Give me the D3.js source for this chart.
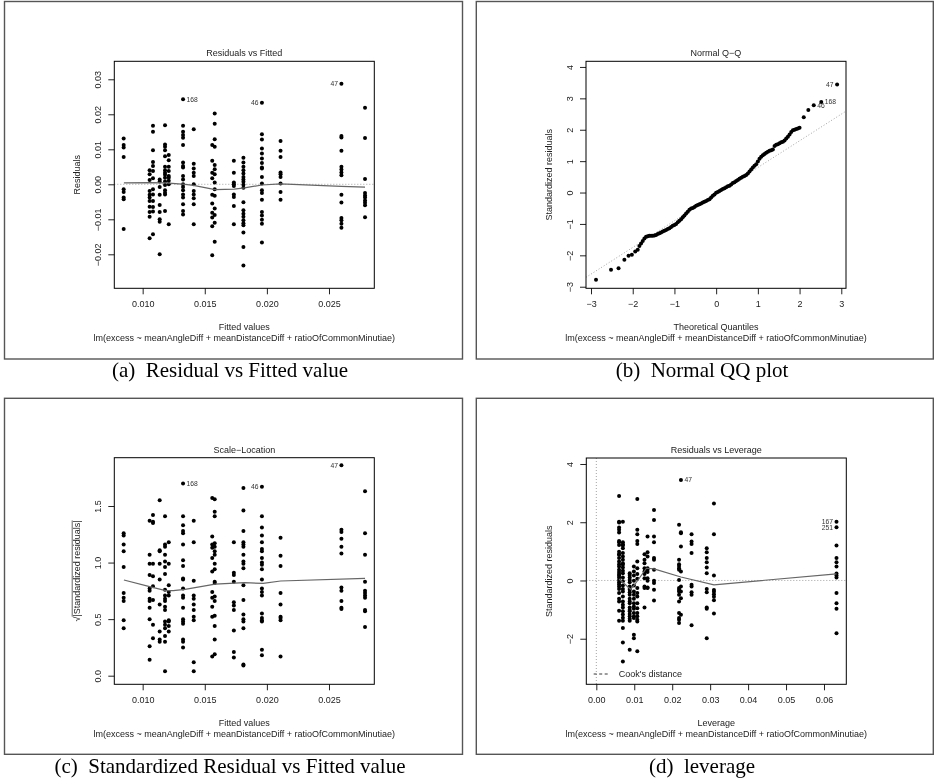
<!DOCTYPE html>
<html>
<head>
<meta charset="utf-8">
<script src="https://cdn.jsdelivr.net/npm/d3@7"></script>
<style>
  body { margin: 0; background: #fff; }
  svg { display: block; font-family: "Liberation Sans", Arial, sans-serif; filter: grayscale(1); }
</style>
</head>
<body>
<div id="viz"></div>
<script>

// fitted value columns shared by panels (a) and (c)
const fittedGroups = [0.00847, 0.01056, 0.01083, 0.01137, 0.0118, 0.0121, 0.01325, 0.01411,
                      0.0156, 0.0158, 0.01734, 0.01811, 0.0196, 0.0211, 0.0260, 0.0279];

// (a) residuals, one list per fitted column
const residuals = [
  [0.0131, 0.0112, 0.0105, 0.0078, -0.0014, -0.0022, -0.0038, -0.0043, -0.0128],
  [0.0040, 0.0029, 0.0012, -0.0019, -0.0030, -0.0038, -0.0048, -0.0064, -0.0079, -0.0093, -0.0154],
  [0.0167, 0.0150, 0.0097, 0.0064, 0.0052, 0.0038, 0.0017, -0.0014, -0.0029, -0.0048, -0.0065, -0.0078, -0.0143],
  [0.0014, 0.0008, -0.0008, -0.0030, -0.0059, -0.0079, -0.0100, -0.0107, -0.0200],
  [0.0169, 0.0114, 0.0107, 0.0097, 0.0080, 0.0050, 0.0040, 0.0033, 0.0027, 0.0019, 0.0008, -0.0002, -0.0017, -0.0024, -0.0029, -0.0076],
  [0.0084, 0.0069, 0.0050, 0.0038, 0.0024, 0.0019, 0.0010, 0.0000, -0.0114],
  [0.0243, 0.0167, 0.0150, 0.0141, 0.0133, 0.0112, 0.0062, 0.0052, 0.0048, 0.0024, 0.0014, 0.0000, -0.0008, -0.0017, -0.0029, -0.0038, -0.0057, -0.0076, -0.0086],
  [0.0157, 0.0059, 0.0045, 0.0033, 0.0024, 0.0000, -0.0019, -0.0029, -0.0040, -0.0057, -0.0114],
  [0.0112, 0.0067, 0.0033, 0.0017, -0.0030, -0.0055, -0.0081, -0.0095, -0.0120, -0.0203],
  [0.0202, 0.0173, 0.0129, 0.0107, 0.0055, 0.0043, 0.0029, 0.0005, -0.0014, -0.0033, -0.0069, -0.0088, -0.0110, -0.0164],
  [0.0067, 0.0033, 0.0005, 0.0000, -0.0005, -0.0029, -0.0036, -0.0062, -0.0114],
  [0.0076, 0.0062, 0.0050, 0.0040, 0.0031, 0.0021, 0.0014, 0.0007, -0.0001, -0.0010, -0.0051, -0.0074, -0.0084, -0.0093, -0.0103, -0.0111, -0.0117, -0.0138, -0.0179, -0.0232],
  [0.0233, 0.0143, 0.0128, 0.0102, 0.0088, 0.0074, 0.0061, 0.0048, 0.0045, 0.0021, 0.0002, -0.0017, -0.0025, -0.0044, -0.0079, -0.0089, -0.0101, -0.0113, -0.0166],
  [0.0124, 0.0096, 0.0078, 0.0034, 0.0029, 0.0021, 0.0002, -0.0022, -0.0044],
  [0.0287, 0.0138, 0.0134, 0.0096, 0.0050, 0.0042, 0.0034, 0.0026, -0.0030, -0.0052, -0.0096, -0.0103, -0.0113, -0.0124],
  [0.0219, 0.0132, 0.0015, -0.0025, -0.0032, -0.0038, -0.0046, -0.0053, -0.0060, -0.0094]
];
const smoothAX = [0.00849, 0.01056, 0.01185, 0.01341, 0.01409, 0.01583, 0.01737, 0.0182, 0.0196, 0.0211, 0.0260, 0.0279];
const smoothAY = [0.0004, 0.0005, 0.0004, 0.0000, -0.0003, -0.0015, -0.0014, -0.0010, -0.0002, 0.0001, -0.0006, -0.0008];

// (c) sqrt(|standardized residuals|), one list per fitted column
const sqrtStdRes = [
  [1.26, 1.24, 1.16, 1.10, 0.96, 0.73, 0.69, 0.66, 0.49, 0.42],
  [1.37, 1.07, 0.99, 0.89, 0.77, 0.75, 0.68, 0.66, 0.60, 0.50, 0.26, 0.14],
  [1.42, 1.36, 1.35, 0.99, 0.88, 0.79, 0.67, 0.45, 0.33],
  [1.55, 1.11, 1.10, 0.99, 0.85, 0.63, 0.39, 0.32, 0.30],
  [1.41, 1.16, 1.14, 1.07, 1.01, 0.96, 0.90, 0.76, 0.71, 0.68, 0.66, 0.61, 0.58, 0.48, 0.45, 0.42, 0.35, 0.30, 0.04],
  [1.18, 0.99, 0.80, 0.74, 0.71, 0.49, 0.48, 0.44, 0.39],
  [1.70, 1.41, 1.33, 1.28, 1.26, 1.16, 1.02, 0.97, 0.86, 0.85, 0.77, 0.71, 0.69, 0.60, 0.50, 0.48, 0.46, 0.32, 0.30, 0.25],
  [1.37, 1.18, 0.84, 0.71, 0.68, 0.63, 0.58, 0.52, 0.49, 0.12, 0.04],
  [1.57, 1.23, 1.16, 1.13, 1.04, 0.92, 0.74, 0.69, 0.61, 0.52, 0.17],
  [1.56, 1.45, 1.41, 1.17, 1.14, 1.10, 1.07, 0.99, 0.94, 0.83, 0.82, 0.70, 0.66, 0.53, 0.44, 0.32, 0.19],
  [1.18, 0.91, 0.89, 0.83, 0.65, 0.62, 0.58, 0.40, 0.21, 0.16],
  [1.66, 1.46, 1.28, 1.18, 1.16, 1.14, 1.07, 1.01, 0.99, 0.95, 0.80, 0.67, 0.54, 0.50, 0.48, 0.42, 0.10, 0.09],
  [1.67, 1.41, 1.31, 1.24, 1.18, 1.12, 1.10, 1.04, 1.00, 0.98, 0.94, 0.85, 0.77, 0.74, 0.71, 0.55, 0.51, 0.49, 0.48, 0.23, 0.18],
  [1.22, 1.06, 0.97, 0.73, 0.63, 0.52, 0.51, 0.49, 0.17],
  [1.86, 1.29, 1.27, 1.21, 1.14, 1.08, 0.78, 0.75, 0.66, 0.60, 0.59],
  [1.63, 1.26, 1.07, 0.83, 0.75, 0.73, 0.71, 0.69, 0.58, 0.57, 0.43]
];
const smoothCX = [0.00849, 0.01056, 0.01185, 0.01247, 0.01341, 0.01583, 0.0182, 0.0197, 0.0211, 0.0279];
const smoothCY = [0.846, 0.787, 0.752, 0.752, 0.763, 0.810, 0.822, 0.816, 0.837, 0.861];

// (b) normal Q-Q: theoretical quantile and sorted standardized residual
const qqTheoretical = [-2.88, -2.52, -2.34, -2.20, -2.10, -2.02, -1.94, -1.88, -1.84,
  -1.80, -1.76, -1.72, -1.68, -1.64, -1.60, -1.56, -1.52, -1.48, -1.44, -1.40, -1.36, -1.32, -1.28, -1.24, -1.20,
  -1.16, -1.12, -1.08, -1.04, -1.00, -0.96, -0.92, -0.88, -0.84, -0.80, -0.76, -0.72, -0.68, -0.64, -0.60, -0.56,
  -0.52, -0.48, -0.44, -0.40, -0.36, -0.32, -0.28, -0.24, -0.20, -0.16, -0.12, -0.08, -0.04, 0.00, 0.04, 0.08,
  0.12, 0.16, 0.20, 0.24, 0.28, 0.32, 0.36, 0.40, 0.44, 0.48, 0.52, 0.56, 0.60, 0.64, 0.68, 0.72, 0.76, 0.80,
  0.84, 0.88, 0.92, 0.96, 1.00, 1.04, 1.08, 1.12, 1.16, 1.20, 1.24, 1.28, 1.32, 1.36, 1.40, 1.44, 1.48, 1.52,
  1.56, 1.60, 1.64, 1.68, 1.72, 1.76, 1.80, 1.84, 1.88, 1.92, 1.96, 2.00,
  2.10, 2.21, 2.34, 2.52, 2.90];
const qqSample = [-2.78, -2.46, -2.41, -2.14, -2.01, -1.98, -1.88, -1.82, -1.70,
  -1.62, -1.54, -1.46, -1.41, -1.39, -1.38, -1.38, -1.38, -1.37, -1.35, -1.32, -1.30, -1.27, -1.24, -1.22, -1.19,
  -1.16, -1.14, -1.10, -1.06, -1.03, -1.00, -0.95, -0.90, -0.85, -0.79, -0.73, -0.67, -0.61, -0.55, -0.51, -0.49,
  -0.46, -0.42, -0.40, -0.37, -0.35, -0.32, -0.29, -0.27, -0.24, -0.21, -0.16, -0.10, -0.06, -0.01, 0.02, 0.05,
  0.08, 0.11, 0.14, 0.17, 0.20, 0.22, 0.26, 0.30, 0.33, 0.37, 0.40, 0.44, 0.47, 0.50, 0.53, 0.56, 0.61, 0.67,
  0.73, 0.80, 0.85, 0.90, 0.99, 1.08, 1.14, 1.19, 1.23, 1.27, 1.30, 1.33, 1.35, 1.37, 1.48, 1.52, 1.54, 1.57,
  1.60, 1.62, 1.66, 1.72, 1.78, 1.85, 1.93, 1.98, 2.00, 2.02, 2.04, 2.06,
  2.40, 2.63, 2.78, 2.88, 3.44];
const qqLineX = [-3.12, 3.11];
const qqLineY = [-2.70, 2.59];

// (d) leverage columns and standardized residuals
const leverageGroups = [0.0060, 0.0070, 0.0088, 0.0099, 0.0108, 0.0127, 0.0135, 0.0152, 0.0218, 0.0223, 0.0251, 0.0291, 0.0310, 0.0633];
const stdResByLeverage = [
  [2.90, 2.02, 1.99, 1.82, 1.74, 1.65, 1.36, 1.31, 1.22, 0.99, 0.90, 0.88, 0.77, 0.65, 0.56, 0.48, 0.37, 0.29, 0.22, 0.17, 0.10, 0.02, -0.06, -0.13, -0.21, -0.29, -0.43, -0.63, -0.72, -1.04, -1.38],
  [2.02, 1.31, 1.24, 1.20, 1.11, 0.94, 0.82, 0.71, 0.59, 0.54, 0.45, 0.33, 0.25, 0.10, -0.03, -0.17, -0.29, -0.38, -0.55, -0.72, -0.83, -0.93, -1.06, -1.17, -1.28, -1.38, -1.63, -2.13, -2.78],
  [0.25, 0.19, 0.10, 0.02, -0.06, -0.21, -0.26, -0.32, -0.40, -0.49, -0.63, -0.72, -0.78, -0.93, -1.01, -1.06, -1.15, -1.23, -1.31, -1.38, -2.38],
  [0.48, 0.31, 0.17, -0.01, -0.17, -0.38, -0.49, -0.63, -0.78, -0.89, -0.97, -1.12, -1.23, -1.29, -1.86, -1.98],
  [2.80, 1.74, 1.59, 1.36, 1.25, 0.65, 0.42, 0.22, 0.06, -0.26, -0.43, -0.55, -0.78, -0.95, -1.12, -1.23, -1.35, -1.41, -2.43],
  [0.90, 0.71, 0.59, 0.42, 0.31, 0.22, 0.08, -0.21, -0.26, -0.93],
  [1.51, 0.97, 0.82, 0.42, 0.37, 0.29, 0.08, -0.01, -0.24, -0.26],
  [2.42, 2.08, 1.51, 1.31, 0.77, 0.71, 0.37, -0.01, -0.09, -0.32, -0.69],
  [1.91, 0.71, 0.56, 0.50, 0.42, 0.37, 0.02, -0.26, -0.32, -0.38, -0.49, -0.72, -1.12, -1.29, -1.35, -1.46],
  [3.45, 1.66, 1.62, 1.17, 0.31, -0.21, -0.38, -0.61, -1.18],
  [1.59, 1.34, 1.25, 0.94, -0.15, -0.21, -0.40, -0.49, -1.54],
  [1.11, 0.97, 0.77, 0.63, 0.45, 0.25, -0.29, -0.40, -0.93, -0.97, -1.98],
  [2.64, 1.59, 0.17, -0.33, -0.39, -0.47, -0.56, -0.68, -1.13],
  [2.02, 1.83, 1.20, 0.77, 0.63, 0.48, 0.24, 0.17, 0.10, -0.43, -0.78, -0.97, -1.81]
];
const smoothDX = [0.0060, 0.0090, 0.0099, 0.0132, 0.0152, 0.0223, 0.0310, 0.0633];
const smoothDY = [0.05, -0.30, -0.18, 0.42, 0.40, 0.12, -0.15, 0.23];

// labelled observations
const idsA = [{id: "168", x: 0.01325, y: 0.0243, side: "right"}, {id: "46", x: 0.0196, y: 0.0233, side: "left"}, {id: "47", x: 0.0260, y: 0.0287, side: "left"}];
const idsB = [{id: "47", x: 2.90, y: 3.44, side: "left"}, {id: "168", x: 2.52, y: 2.88, side: "right"}, {id: "46", x: 2.34, y: 2.78, side: "right"}];
const idsC = [{id: "168", x: 0.01325, y: 1.70, side: "right"}, {id: "46", x: 0.0196, y: 1.67, side: "left"}, {id: "47", x: 0.0260, y: 1.86, side: "left"}];
const idsD = [{id: "47", x: 0.0223, y: 3.45, side: "right"}, {id: "167", x: 0.0633, y: 2.02, side: "left"}, {id: "251", x: 0.0633, y: 1.83, side: "left"}];

const subTitle = "lm(excess ~ meanAngleDiff + meanDistanceDiff + ratioOfCommonMinutiae)";

// ---- drawing ----
const svg = d3.select("#viz").append("svg").attr("width", 934).attr("height", 781);

function panel(o) {
  const [bx0, by0, bx1, by1] = o.box;
  const x = d3.scaleLinear().domain(o.xDomain).range([bx0, bx1]);
  const y = d3.scaleLinear().domain(o.yDomain).range([by1, by0]);
  const g = svg.append("g");

  // outer figure frame
  g.append("rect")
    .attr("x", o.frame[0]).attr("y", o.frame[1])
    .attr("width", o.frame[2] - o.frame[0]).attr("height", o.frame[3] - o.frame[1])
    .attr("fill", "none").attr("stroke", "#555").attr("stroke-width", 1.4);

  const gx = g.append("g").attr("transform", `translate(0,${by1})`)
    .call(d3.axisBottom(x).tickValues(o.xTicks).tickFormat(o.xFmt).tickSize(6));
  const gy = g.append("g").attr("transform", `translate(${bx0},0)`)
    .call(d3.axisLeft(y).tickValues(o.yTicks).tickFormat(o.yFmt).tickSize(6));
  [gx, gy].forEach(a => {
    a.attr("font-size", null).attr("font-family", null);
    a.select(".domain").remove();
    a.selectAll("line").attr("stroke", "#222");
    a.selectAll("text").attr("fill", "#222").style("font-size", "9px");
  });
  gx.selectAll("text").attr("y", 16).attr("dy", "0.35em");
  gy.selectAll("text")
    .attr("transform", "rotate(-90)")
    .attr("x", 0).attr("y", -16).attr("dy", "0.35em")
    .attr("text-anchor", "middle");

  // reference lines
  const dotted = (x1, y1, x2, y2) => g.append("line")
    .attr("x1", x1).attr("y1", y1).attr("x2", x2).attr("y2", y2)
    .attr("stroke", "#999").attr("stroke-width", 0.9).attr("stroke-dasharray", "1,2");
  if (o.hZero) dotted(bx0, y(0), bx1, y(0));
  if (o.vZero) dotted(x(0), by0, x(0), by1);
  if (o.refLine) dotted(x(o.refLine[0][0]), y(o.refLine[1][0]), x(o.refLine[0][1]), y(o.refLine[1][1]));

  // points
  g.append("g").selectAll("circle").data(o.points).join("circle")
    .attr("cx", d => x(d.x)).attr("cy", d => y(d.y)).attr("r", 2).attr("fill", "#000");

  // smoother
  if (o.smooth) {
    const pts = o.smooth[0].map((v, i) => [v, o.smooth[1][i]]);
    g.append("path").datum(pts)
      .attr("fill", "none").attr("stroke", "#666").attr("stroke-width", 1.2)
      .attr("d", d3.line().x(d => x(d[0])).y(d => y(d[1])));
  }

  // observation ids
  g.append("g").selectAll("text").data(o.ids).join("text")
    .attr("x", d => x(d.x) + (d.side === "right" ? 3.5 : -3.5))
    .attr("y", d => y(d.y)).attr("dy", "0.35em")
    .attr("text-anchor", d => d.side === "right" ? "start" : "end")
    .attr("fill", "#333").style("font-size", "6.75px")
    .text(d => d.id);

  // plot box
  g.append("rect").attr("x", bx0).attr("y", by0)
    .attr("width", bx1 - bx0).attr("height", by1 - by0)
    .attr("fill", "none").attr("stroke", "#000").attr("stroke-width", 1);

  const cx = (bx0 + bx1) / 2, cy = (by0 + by1) / 2;
  const txt = (tx, ty, s) => g.append("text").attr("x", tx).attr("y", ty).attr("dy", "0.35em")
    .attr("text-anchor", "middle").attr("fill", "#222").style("font-size", "9px").text(s);
  txt(cx, by0 - 8, o.title);
  txt(cx, by1 + 38.5, o.xLabel);
  txt(cx, by1 + 50, subTitle);

  const yl = g.append("g").attr("transform", `translate(${bx0 - 37.5},${cy}) rotate(-90)`);
  const ylt = yl.append("text").attr("dy", "0.35em").attr("text-anchor", "middle")
    .attr("fill", "#222").style("font-size", "9px").text(o.yLabel);
  if (o.sqrtLabel) {
    const node = ylt.node();
    const w = node.getComputedTextLength();
    const ws = node.getSubStringLength(0, 1);
    yl.append("line").attr("x1", -w / 2 + ws).attr("x2", w / 2)
      .attr("y1", -4.6).attr("y2", -4.6).attr("stroke", "#222").attr("stroke-width", 0.7);
  }

  if (o.legend) o.legend(g, x, y);

  // figure caption
  g.append("text").attr("x", o.capX).attr("y", o.capY).attr("text-anchor", "middle")
    .style("font-family", "'Liberation Serif', 'Times New Roman', serif").style("font-size", "21px")
    .attr("fill", "#000").text(o.caption);
}

const flat = (xs, lists) => xs.flatMap((v, i) => lists[i].map(r => ({x: v, y: r})));

panel({
  frame: [4.5, 1.5, 462.5, 359], box: [114.3, 61.3, 374.3, 288.3],
  xDomain: [0.007716, 0.028647], yDomain: [-0.02971, 0.03514],
  xTicks: [0.010, 0.015, 0.020, 0.025], xFmt: d3.format(".3f"),
  yTicks: [-0.02, -0.01, 0, 0.01, 0.02, 0.03], yFmt: d3.format(".2f"),
  title: "Residuals vs Fitted", xLabel: "Fitted values", yLabel: "Residuals",
  points: flat(fittedGroups, residuals), smooth: [smoothAX, smoothAY], ids: idsA, hZero: true,
  caption: "(a)\u2002Residual vs Fitted value", capX: 230, capY: 377
});

panel({
  frame: [476.3, 1.5, 933.3, 359], box: [586, 61.3, 846, 288.3],
  xDomain: [-3.12, 3.113], yDomain: [-3.05, 4.18],
  xTicks: [-3, -2, -1, 0, 1, 2, 3], xFmt: d3.format("d"),
  yTicks: [-3, -2, -1, 0, 1, 2, 3, 4], yFmt: d3.format("d"),
  title: "Normal Q\u2212Q", xLabel: "Theoretical Quantiles", yLabel: "Standardized residuals",
  points: qqTheoretical.map((t, i) => ({x: t, y: qqSample[i]})), ids: idsB,
  refLine: [qqLineX, qqLineY],
  caption: "(b)\u2002Normal QQ plot", capX: 702, capY: 377
});

panel({
  frame: [4.5, 398.3, 462.5, 754.3], box: [114.3, 457.7, 374.3, 684.3],
  xDomain: [0.007716, 0.028647], yDomain: [-0.076, 1.927],
  xTicks: [0.010, 0.015, 0.020, 0.025], xFmt: d3.format(".3f"),
  yTicks: [0, 0.5, 1, 1.5], yFmt: d3.format(".1f"),
  title: "Scale\u2212Location", xLabel: "Fitted values", yLabel: "\u221A|Standardized residuals|", sqrtLabel: true,
  points: flat(fittedGroups, sqrtStdRes), smooth: [smoothCX, smoothCY], ids: idsC,
  caption: "(c)\u2002Standardized Residual vs Fitted value", capX: 230, capY: 773
});

panel({
  frame: [476.3, 398.3, 933.3, 754.3], box: [586.3, 458, 846.3, 684.3],
  xDomain: [-0.00264, 0.06588], yDomain: [-3.565, 4.206],
  xTicks: [0, 0.01, 0.02, 0.03, 0.04, 0.05, 0.06], xFmt: d3.format(".2f"),
  yTicks: [-2, 0, 2, 4], yFmt: d3.format("d"),
  title: "Residuals vs Leverage", xLabel: "Leverage", yLabel: "Standardized residuals",
  points: flat(leverageGroups, stdResByLeverage), smooth: [smoothDX, smoothDY], ids: idsD,
  hZero: true, vZero: true,
  legend: (g, x, y) => {
    g.append("line").attr("x1", 593.7).attr("x2", 609.7).attr("y1", 674).attr("y2", 674)
      .attr("stroke", "#222").attr("stroke-width", 0.9).attr("stroke-dasharray", "3,2.5");
    g.append("text").attr("x", 618.7).attr("y", 674).attr("dy", "0.35em")
      .attr("fill", "#222").style("font-size", "9px").text("Cook's distance");
  },
  caption: "(d)\u2002leverage", capX: 702, capY: 773
});
</script>
</body>
</html>
